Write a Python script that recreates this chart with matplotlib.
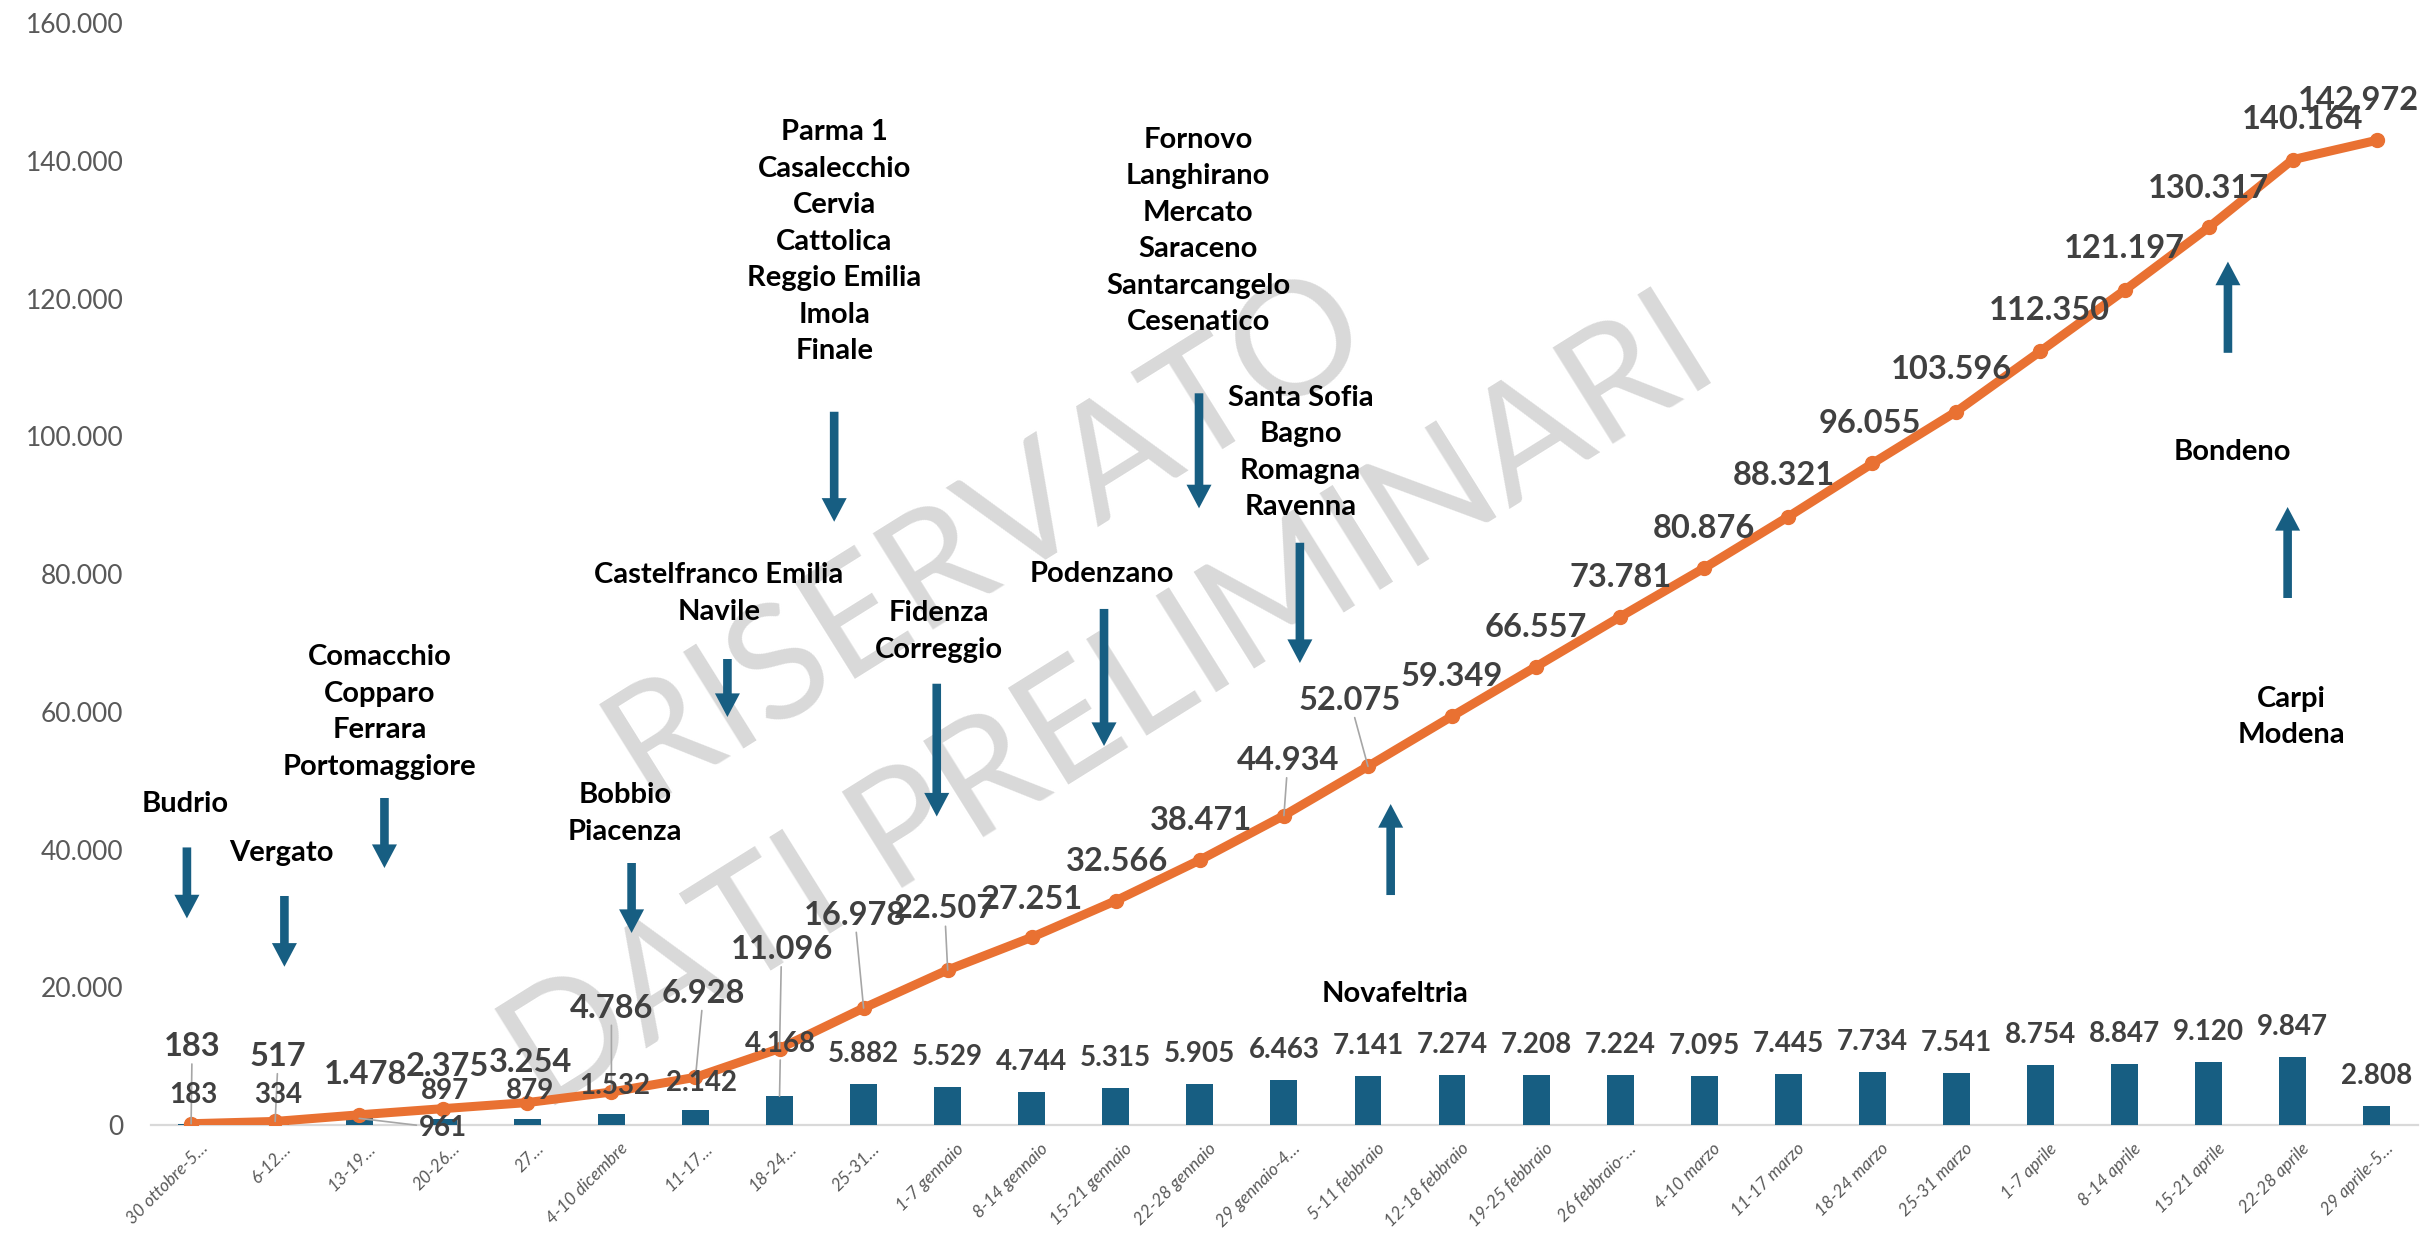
import matplotlib.pyplot as plt
from matplotlib.transforms import ScaledTranslation

plt.rcParams['font.family'] = ['Lato', 'DejaVu Sans']

weeks = [
	'30 ottobre-5…', '6-12…', '13-19…', '20-26…', '27…', '4-10 dicembre',
	'11-17…', '18-24…', '25-31…', '1-7 gennaio', '8-14 gennaio', '15-21 gennaio',
	'22-28 gennaio', '29 gennaio-4…', '5-11 febbraio', '12-18 febbraio',
	'19-25 febbraio', '26 febbraio-…', '4-10 marzo', '11-17 marzo', '18-24 marzo',
	'25-31 marzo', '1-7 aprile', '8-14 aprile', '15-21 aprile', '22-28 aprile',
	'29 aprile-5…',
]
weekly = [
	183, 334, 961, 897, 879, 1532, 2142, 4168, 5882, 5529, 4744, 5315, 5905,
	6463, 7141, 7274, 7208, 7224, 7095, 7445, 7734, 7541, 8754, 8847, 9120,
	9847, 2808,
]
cumulative = [
	183, 517, 1478, 2375, 3254, 4786, 6928, 11096, 16978, 22507, 27251, 32566,
	38471, 44934, 52075, 59349, 66557, 73781, 80876, 88321, 96055, 103596,
	112350, 121197, 130317, 140164, 142972,
]
yticks = [0, 20000, 40000, 60000, 80000, 100000, 120000, 140000, 160000]

cities = [
	'Budrio', 'Vergato', 'Comacchio\nCopparo\nFerrara\nPortomaggiore',
	'Bobbio\nPiacenza', 'Castelfranco Emilia\nNavile',
	'Parma 1\nCasalecchio\nCervia\nCattolica\nReggio Emilia\nImola\nFinale',
	'Fidenza\nCorreggio', 'Podenzano',
	'Fornovo\nLanghirano\nMercato\nSaraceno\nSantarcangelo\nCesenatico',
	'Santa Sofia\nBagno\nRomagna\nRavenna', 'Novafeltria', 'Bondeno', 'Carpi\nModena',
]

# layout: where the city names sit (data units) and their arrows (x, tail, tip)
city_xy = [
	(-0.07, 46600), (1.07, 39500), (2.24, 60000), (5.16, 45200), (6.28, 77200),
	(7.65, 128250), (8.90, 71650), (10.83, 80000), (11.98, 129800), (13.20, 97650),
	(14.32, 19050), (24.28, 97750), (24.98, 59270),
]
city_arrows = [
	(-0.05, 40300, 30000), (1.11, 33250, 22980), (2.30, 47480, 37310),
	(5.24, 38040, 27880), (6.38, 67660, 59240), (7.65, 103560, 87590),
	(8.87, 64070, 44790), (10.86, 74930, 55030), (11.99, 106240, 89540),
	(13.19, 84540, 67080), (14.27, 33390, 46600), (24.23, 112120, 125360),
	(24.94, 76520, 89730),
]
# label offsets in pixels from the marker / bar top
line_dx = [1, 3, 6, 4, 3, 0, 8, 2, -9, -3, 0, 1, 1, 4, -18, 0, 0, 0, 0, -4, -3, -5, 9, 0, 0, 10, -18]
line_dy = [77, 65, 40, 42, 40, 84, 84, 99, 93, 61, 38, 39, 40, 55, 66, 40, 39, 39, 39, 41, 40, 42, 41, 42, 39, 40, 40]
line_leader = {0, 1, 5, 6, 7, 8, 9, 13, 14}
bar_dx = [2, 3, 84, 2, 3, 3, 6, 1] + [0] * 19
bar_dy = [29, 28, -10, 28, 28, 28, 27, 52] + [30] * 19
bar_leader = {2, 7}

BLUE = '#175E82'
ORANGE = '#E97132'
LABEL = '#404040'
LEADER = '#A6A6A6'


def fmt(v):
	return f'{v:,}'.replace(',', '.')


fig = plt.figure(figsize=(24.33, 12.33), dpi=100)
ax = fig.add_axes([0.0621, 0.0876, 0.9317, 0.8937])

x = list(range(len(weeks)))
ax.bar(x, weekly, width=0.32, color=BLUE, zorder=2)
ax.plot(x, cumulative, color=ORANGE, lw=6.5, marker='o', ms=10, zorder=3, solid_capstyle='round')

for i in x:
	arrow = dict(arrowstyle='-', color=LEADER, lw=1.2, shrinkA=0, shrinkB=0)
	ax.annotate(
		fmt(cumulative[i]), (i, cumulative[i]), xytext=(line_dx[i], line_dy[i]),
		textcoords='offset pixels', ha='center', va='center', fontsize=23.5,
		fontweight='bold', color=LABEL, zorder=5,
		arrowprops=arrow if i in line_leader else None)
	ax.annotate(
		fmt(weekly[i]), (i, weekly[i]), xytext=(bar_dx[i], bar_dy[i]),
		textcoords='offset pixels', ha='center', va='center', fontsize=20,
		fontweight='bold', color=LABEL, zorder=5,
		arrowprops=arrow if i in bar_leader else None)

for name, (tx, ty), (axx, tail, tip) in zip(cities, city_xy, city_arrows):
	ax.text(tx, ty, name, ha='center', va='center', fontsize=21, fontweight='bold',
		color='black', linespacing=1.5, zorder=5)
	ax.annotate(
		'', xy=(axx, tip), xytext=(axx, tail),
		arrowprops=dict(arrowstyle='simple,head_length=1.7,head_width=1.8,tail_width=0.62',
			mutation_scale=10, color=BLUE, lw=0, shrinkA=0, shrinkB=0), zorder=4)

# watermark
for txt, wx, wy in [('RISERVATO', 0.4053, 0.5665), ('DATI PRELIMINARI', 0.4560, 0.4275)]:
	ax.text(wx, wy, txt, transform=fig.transFigure, rotation=32, ha='center', va='center',
		fontsize=115, color='#D9D9D9', zorder=0.5, clip_on=False)

ax.set_xlim(-0.476, 26.49)
ax.set_ylim(0, 160000)
ax.set_yticks(yticks)
ax.set_yticklabels([fmt(v) for v in yticks], fontsize=19, color='#595959')
ax.set_xticks(x)
ax.set_xticklabels(weeks, rotation=45, ha='right', va='top', rotation_mode='anchor',
	fontsize=12.5, fontstyle='italic', color='#595959')
ax.tick_params(axis='x', length=0, pad=11)
ax.tick_params(axis='y', length=0, pad=20)
shift = ScaledTranslation(6 / 72, 0, fig.dpi_scale_trans)
for lab in ax.get_xticklabels():
	lab.set_transform(lab.get_transform() + shift)

for side in ('top', 'right', 'left'):
	ax.spines[side].set_visible(False)
ax.spines['bottom'].set_color('#D9D9D9')
ax.spines['bottom'].set_linewidth(1.6)
ax.spines['bottom'].set_zorder(1)

fig.savefig('out.png', dpi=100)
